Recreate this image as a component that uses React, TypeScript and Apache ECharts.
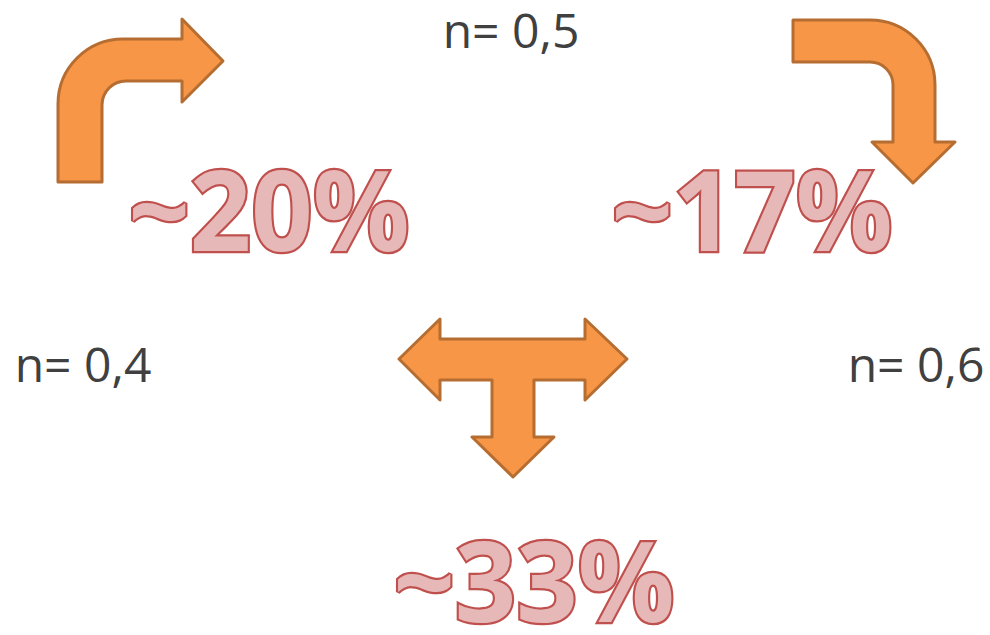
import React, { useEffect, useRef } from "react";
import * as echarts from "echarts";

const pctLabels = ["~20%", "~17%", "~33%"];
const pctPositions = [
  [269, 208],
  [752, 208],
  [534, 579],
];
const nLabels = ["n= 0,5", "n= 0,4", "n= 0,6"];
const nPositions = [
  [511, 29],
  [83, 363],
  [916, 363],
];

const arrowLeftPath =
  "M58 182 L58 104 A65 65 0 0 1 123 39 L182 39 L182 19 L223 61 L182 102 L182 81 L126 81 A24 24 0 0 0 102 105 L102 182 Z";
const arrowRightPath =
  "M793 20 L870 20 A65 65 0 0 1 935 85 L935 142 L955 142 L913 183 L872 142 L893 142 L893 85 A23 23 0 0 0 870 62 L793 62 Z";
const tArrowPoints = [
  [399, 359], [440, 319], [440, 339], [585, 339], [585, 319], [627, 359],
  [585, 400], [585, 380], [534, 380], [534, 437], [554, 437], [513, 477],
  [472, 437], [492, 437], [492, 380], [440, 380], [440, 400],
];

const ORANGE = "#F79646";
const ORANGE_EDGE = "#B66D31";

let registered = false;

export default function App() {
  const ref = useRef<HTMLDivElement>(null);
  useEffect(() => {
    document.body.style.margin = "0";
    if (!registered) {
      echarts.graphic.registerShape("arrowL", echarts.graphic.extendPath(arrowLeftPath, {}));
      echarts.graphic.registerShape("arrowR", echarts.graphic.extendPath(arrowRightPath, {}));
      registered = true;
    }
    const chart = echarts.init(ref.current!, null, { renderer: "svg" });
    const arrowStyle = { fill: ORANGE, stroke: ORANGE_EDGE, lineWidth: 3, lineJoin: "round" };
    const elements: any[] = [
      { type: "arrowL", x: 0, y: 0, style: arrowStyle },
      { type: "arrowR", x: 0, y: 0, style: arrowStyle },
      { type: "polygon", shape: { points: tArrowPoints }, style: arrowStyle },
    ];
    pctLabels.forEach((t, i) => {
      elements.push({
        type: "text",
        x: pctPositions[i][0],
        y: pctPositions[i][1],
        scaleX: 0.96,
        style: {
          text: t,
          fontFamily: "Open Sans",
          fontWeight: "bold",
          fontSize: 112,
          fill: "#E6B9B8",
          stroke: "#C0504D",
          lineWidth: 4.5,
          lineJoin: "round",
          align: "center",
          verticalAlign: "middle",
        },
      });
    });
    nLabels.forEach((t, i) => {
      elements.push({
        type: "text",
        x: nPositions[i][0],
        y: nPositions[i][1],
        style: {
          text: t,
          fontFamily: "Open Sans",
          fontSize: 48,
          fill: "#404040",
          align: "center",
          verticalAlign: "middle",
        },
      });
    });
    chart.setOption({
      animation: false,
      backgroundColor: "#ffffff",
      graphic: { elements },
    });
    return () => chart.dispose();
  }, []);
  return <div ref={ref} style={{ width: 990, height: 635, position: "absolute", left: 0, top: 0 }} />;
}
